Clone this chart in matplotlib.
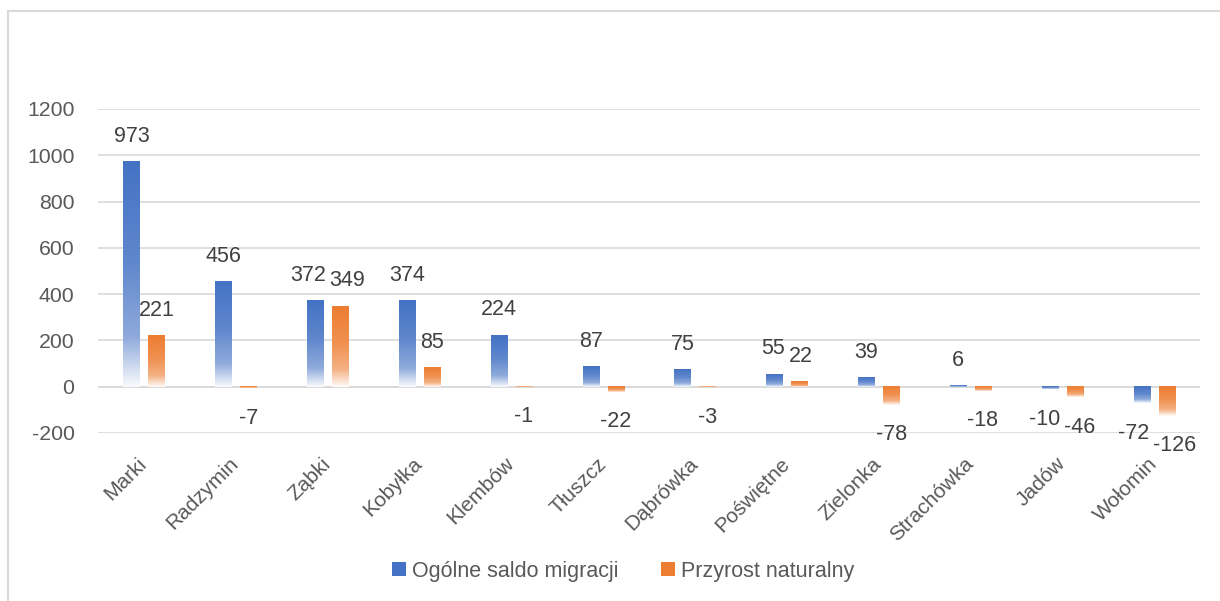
import numpy as np
import matplotlib
matplotlib.use("Agg")
import matplotlib.pyplot as plt
from matplotlib.colors import LinearSegmentedColormap, to_rgb
from matplotlib.patches import Rectangle
from matplotlib.lines import Line2D

categories = ["Marki", "Radzymin", "Ząbki", "Kobyłka", "Klembów", "Tłuszcz",
              "Dąbrówka", "Poświętne", "Zielonka", "Strachówka", "Jadów", "Wołomin"]
migracja = [973, 456, 372, 374, 224, 87, 75, 55, 39, 6, -10, -72]
przyrost = [221, -7, 349, 85, -1, -22, -3, 22, -78, -18, -46, -126]
series_names = ["Ogólne saldo migracji", "Przyrost naturalny"]
series_colors = ["#4472C4", "#ED7D31"]
yticks = [-200, 0, 200, 400, 600, 800, 1000, 1200]

plt.rcParams['font.family'] = ['Liberation Sans', 'DejaVu Sans']

W, H = 1220, 601
fig = plt.figure(figsize=(W / 100, H / 100), dpi=100)
ax = fig.add_axes([98 / W, 1 - 433 / H, 1102 / W, 324 / H])

def mix(c, a):
    r = np.array(to_rgb(c))
    return tuple(r + (1 - r) * a)

def grad_cmap(c):
    return LinearSegmentedColormap.from_list(
        "g", [(0.0, mix(c, 0.0)), (0.45, mix(c, 0.15)), (0.78, mix(c, 0.4)), (1.0, mix(c, 0.97))])

x = np.arange(len(categories))
bw = 0.175
off = 0.136
grad = np.linspace(0, 1, 256).reshape(-1, 1)

labels = {}
for si, (vals, col, sgn) in enumerate([(migracja, series_colors[0], -1), (przyrost, series_colors[1], 1)]):
    cmap = grad_cmap(col)
    for xi, v in zip(x, vals):
        cx = xi + sgn * off
        x0, x1 = cx - bw / 2, cx + bw / 2
        top, bot = max(v, 0), min(v, 0)
        ax.imshow(grad, cmap=cmap, vmin=0, vmax=1, extent=(x0, x1, bot, top),
                  origin='upper', aspect='auto', zorder=3, interpolation='bilinear')
        dy = 25 if v >= 0 else -30
        t = ax.annotate(str(v), (cx, v), xytext=(0, dy), textcoords='offset pixels',
                        ha='center', va='center', fontsize=15.5, color='#404040', zorder=5)
        labels[(si, xi)] = t

ax.set_xlim(-0.5, len(categories) - 0.5)
ax.set_ylim(-200, 1200)
ax.set_yticks(yticks)
ax.set_yticklabels([str(t) for t in yticks], fontsize=15.3, color='#595959')
ax.grid(axis='y', color='#D9D9D9', linewidth=1.2, zorder=0)
ax.set_axisbelow(True)
ax.axhline(0, color='#D9D9D9', linewidth=1.2, zorder=1)
for s in ax.spines.values():
    s.set_visible(False)
ax.tick_params(axis='y', length=0, pad=17)
ax.tick_params(axis='x', length=0, pad=20)
ax.set_xticks(x)
ax.set_xticklabels(categories, rotation=45, ha='right', va='center',
                   rotation_mode='anchor', fontsize=15, color='#595959')

# push apart overlapping data labels within a category
fig.canvas.draw()
r = fig.canvas.get_renderer()
for xi in x:
    a, b = labels[(0, xi)], labels[(1, xi)]
    ba, bb = a.get_window_extent(r), b.get_window_extent(r)
    if ba.y1 > bb.y0 - 2 and bb.y1 > ba.y0 - 2:
        need = ba.x1 - bb.x0 + 4
        if need > 0:
            xa, ya = a.xyann
            xb, yb = b.xyann
            a.xyann = (xa - need / 2, ya)
            b.xyann = (xb + need / 2, yb)

handles = [Rectangle((0, 0), 1, 1, facecolor=c, edgecolor='none') for c in series_colors]
fig.legend(handles, series_names, loc='center', bbox_to_anchor=(623 / W, 1 - 571 / H),
           ncol=2, frameon=False, fontsize=15.5, labelcolor='#595959',
           handlelength=0.65, handleheight=0.65, handletextpad=0.25, columnspacing=2.0)

fig.add_artist(Line2D([8 / W, 8 / W], [0, 1 - 11 / H], color='#D9D9D9', linewidth=1.5,
                      transform=fig.transFigure))
fig.add_artist(Line2D([8 / W, 1], [1 - 11 / H, 1 - 11 / H], color='#D9D9D9', linewidth=1.5,
                      transform=fig.transFigure))

fig.savefig("out.png", dpi=100, facecolor='white')
